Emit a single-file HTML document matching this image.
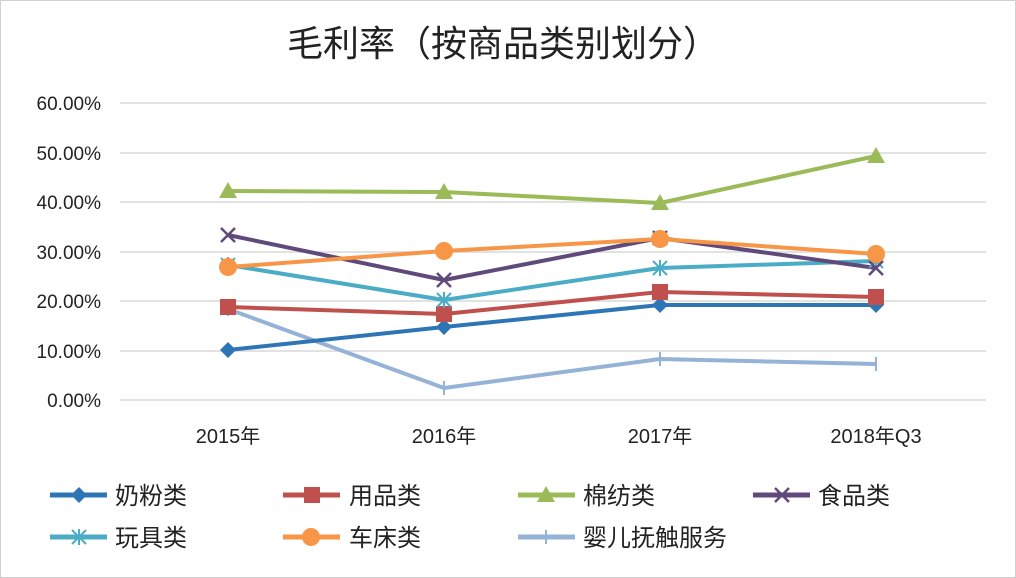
<!DOCTYPE html>
<html><head><meta charset="utf-8"><style>
html,body{margin:0;padding:0;background:#fff}
svg{display:block}
text{font-family:"Liberation Sans","Noto Sans CJK SC",sans-serif;fill:#222}
</style></head><body>
<svg width="1016" height="578" viewBox="0 0 1016 578">
<rect x="0.5" y="0.5" width="1015" height="577" fill="#fff" stroke="#d0d0d0"/>
<text x="503" y="56" font-size="36" text-anchor="middle" fill="#444">毛利率（按商品类别划分）</text>
<g stroke="#d9d9d9" stroke-width="1.5">
<line x1="120" y1="103" x2="986" y2="103"/><line x1="120" y1="153" x2="986" y2="153"/>
<line x1="120" y1="202" x2="986" y2="202"/><line x1="120" y1="252" x2="986" y2="252"/>
<line x1="120" y1="301" x2="986" y2="301"/><line x1="120" y1="351" x2="986" y2="351"/>
<line x1="120" y1="400" x2="986" y2="400"/>
</g>
<g font-size="19" text-anchor="end">
<text x="101" y="110">60.00%</text><text x="101" y="160">50.00%</text>
<text x="101" y="209">40.00%</text><text x="101" y="259">30.00%</text>
<text x="101" y="308">20.00%</text><text x="101" y="358">10.00%</text>
<text x="101" y="407">0.00%</text>
</g>
<g font-size="20" text-anchor="middle">
<text x="228" y="443">2015年</text><text x="444" y="443">2016年</text>
<text x="660" y="443">2017年</text><text x="876" y="443">2018年Q3</text>
</g>
<g fill="none" stroke-width="4" stroke-linejoin="round">
<polyline stroke="#95b3d7" points="228,309 444,388 660,359 876,364"/>
<polyline stroke="#2e75b6" points="228,350 444,327 660,305 876,305"/>
<polyline stroke="#c0504d" points="228,307 444,314 660,292 876,297"/>
<polyline stroke="#4bacc6" points="228,265 444,300 660,268 876,261"/>
<polyline stroke="#604a7b" points="228,235 444,280 660,238 876,268"/>
<polyline stroke="#f79646" points="228,267 444,251 660,239 876,254"/>
<polyline stroke="#9bbb59" points="228,191 444,192 660,203 876,156"/>
</g>
<g stroke="#95b3d7" stroke-width="2"><path d="M228,302v14M444,381v14M660,352v14M876,357v14"/></g>
<g fill="#2e75b6"><path d="M228,342l8,8-8,8-8-8z"/><path d="M444,319l8,8-8,8-8-8z"/><path d="M660,297l8,8-8,8-8-8z"/><path d="M876,297l8,8-8,8-8-8z"/></g>
<g fill="#c0504d"><rect x="220" y="299" width="16" height="16"/><rect x="436" y="306" width="16" height="16"/><rect x="652" y="284" width="16" height="16"/><rect x="868" y="289" width="16" height="16"/></g>
<g stroke="#4bacc6" stroke-width="2"><path d="M221,258l14,14M235,258l-14,14M228,257v16M437,293l14,14M451,293l-14,14M444,292v16M653,261l14,14M667,261l-14,14M660,260v16M869,254l14,14M883,254l-14,14M876,253v16"/></g>
<g stroke="#604a7b" stroke-width="2.5"><path d="M221,228l14,14M235,228l-14,14M437,273l14,14M451,273l-14,14M653,231l14,14M667,231l-14,14M869,261l14,14M883,261l-14,14"/></g>
<g fill="#f79646"><circle cx="228" cy="267" r="9"/><circle cx="444" cy="251" r="9"/><circle cx="660" cy="239" r="9"/><circle cx="876" cy="254" r="9"/></g>
<g fill="#9bbb59"><path d="M228,182l9,16h-18z"/><path d="M444,183l9,16h-18z"/><path d="M660,194l9,16h-18z"/><path d="M876,147l9,16h-18z"/></g>
<g stroke-width="5">
<line x1="50" y1="495" x2="107" y2="495" stroke="#2e75b6"/>
<line x1="283" y1="495" x2="340" y2="495" stroke="#c0504d"/>
<line x1="518" y1="495" x2="575" y2="495" stroke="#9bbb59"/>
<line x1="753" y1="495" x2="810" y2="495" stroke="#604a7b"/>
<line x1="50" y1="537" x2="107" y2="537" stroke="#4bacc6"/>
<line x1="283" y1="537" x2="340" y2="537" stroke="#f79646"/>
<line x1="518" y1="537" x2="575" y2="537" stroke="#95b3d7"/>
</g>
<path d="M79,487l8,8-8,8-8-8z" fill="#2e75b6"/>
<rect x="304" y="487" width="16" height="16" fill="#c0504d"/>
<path d="M546,486l9,16h-18z" fill="#9bbb59"/>
<path d="M775,488l14,14M789,488l-14,14" stroke="#604a7b" stroke-width="2.5"/>
<path d="M72,530l14,14M86,530l-14,14M79,529v16" stroke="#4bacc6" stroke-width="2"/>
<circle cx="311" cy="537" r="9" fill="#f79646"/>
<path d="M546,530v14" stroke="#95b3d7" stroke-width="2"/>
<g font-size="24">
<text x="115" y="504">奶粉类</text><text x="349" y="504">用品类</text>
<text x="583" y="504">棉纺类</text><text x="818" y="504">食品类</text>
<text x="115" y="546">玩具类</text><text x="349" y="546">车床类</text>
<text x="583" y="546">婴儿抚触服务</text>
</g>
</svg>
</body></html>
